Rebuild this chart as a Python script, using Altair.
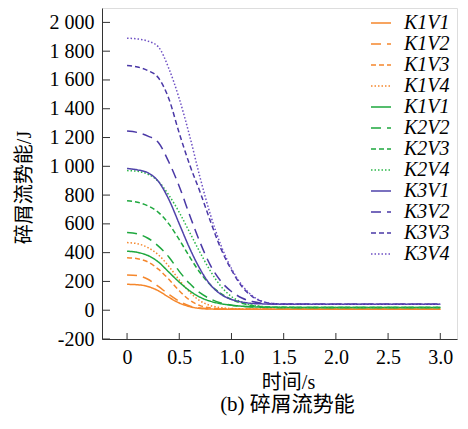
import altair as alt
import pandas as pd

# time grid (s)
T = [0, 0.1, 0.2, 0.3, 0.4, 0.5, 0.6, 0.7, 0.8, 0.9, 1.0, 1.1, 1.2, 1.3, 1.4, 1.5, 2.0, 2.5, 3.0]

SERIES = ["K1V1", "K1V2", "K1V3", "K1V4", "K2V1", "K2V2", "K2V3", "K2V4",
          "K3V1", "K3V2", "K3V3", "K3V4"]

K1V1 = [180, 177, 165, 135, 90, 50, 25, 12, 8, 7, 6, 6, 6, 6, 6, 6, 6, 6, 6]
K1V2 = [245, 240, 215, 165, 110, 62, 30, 15, 10, 8, 7, 7, 7, 7, 7, 7, 7, 7, 7]
K1V3 = [365, 358, 335, 285, 215, 135, 70, 32, 16, 10, 8, 7, 7, 7, 7, 7, 7, 7, 7]
K1V4 = [470, 462, 435, 385, 305, 210, 125, 65, 32, 18, 12, 9, 8, 8, 7, 7, 7, 7, 7]
K2V1 = [410, 402, 380, 335, 265, 195, 135, 90, 62, 45, 35, 28, 24, 21, 20, 19, 19, 19, 19]
K2V2 = [540, 530, 500, 445, 370, 270, 185, 120, 78, 50, 35, 27, 22, 20, 19, 19, 19, 19, 19]
K2V3 = [760, 750, 725, 680, 600, 490, 370, 260, 175, 115, 75, 48, 32, 24, 21, 20, 19, 19, 19]
K2V4 = [970, 965, 945, 895, 800, 680, 540, 400, 270, 165, 95, 55, 35, 25, 21, 20, 19, 19, 19]
K3V1 = [985, 975, 955, 895, 770, 600, 430, 285, 175, 110, 75, 57, 47, 44, 43, 42, 42, 42, 42]
K3V2 = [1245, 1235, 1210, 1165, 1030, 860, 660, 470, 310, 200, 130, 85, 60, 48, 44, 42, 42, 42, 42]
K3V3 = [1700, 1690, 1665, 1615, 1470, 1230, 1010, 820, 615, 425, 280, 165, 95, 60, 46, 43, 42, 42, 42]
K3V4 = [1890, 1885, 1870, 1830, 1680, 1470, 1210, 920, 660, 450, 290, 175, 100, 60, 46, 43, 42, 42, 42]

VALUES = [K1V1, K1V2, K1V3, K1V4, K2V1, K2V2, K2V3, K2V4, K3V1, K3V2, K3V3, K3V4]

X_TICKS = [0, 0.5, 1.0, 1.5, 2.0, 2.5, 3.0]
Y_TICKS = [-200, 0, 200, 400, 600, 800, 1000, 1200, 1400, 1600, 1800, 2000]

ORANGE = "#F5872C"
GREEN = "#1EA83E"
PURPLE = "#4A38A6"
COLORS = [ORANGE] * 4 + [GREEN] * 3 + ["#2DB84A"] + ["#4F43AA", PURPLE, PURPLE, "#6E50C4"]
DASHES = [[1, 0], [10, 6], [5, 3], [1.5, 2]] * 3

rows = []
for name, vals in zip(SERIES, VALUES):
    for t, v in zip(T, vals):
        rows.append({"series": name, "t": t, "v": v})
df = pd.DataFrame(rows)

W, H = 355, 331
SERIF = "Liberation Serif, Noto Sans CJK SC"
AX = "#333"

x_scale = alt.Scale(domain=[-0.24, 3.16], nice=False, zero=False)
y_scale = alt.Scale(domain=[-200, 2100], nice=False, zero=False)

x_axis = alt.Axis(values=X_TICKS, title="时间/s", grid=False, tickSize=0,
                  labelExpr="datum.value == 0 ? '0' : format(datum.value, '.1f')",
                  labelFont=SERIF, labelFontSize=20, labelPadding=8,
                  labelOverlap=False,
                  titleFont=SERIF, titleFontSize=20, titleFontWeight="normal",
                  titlePadding=5, titleX=186, labelColor="black", titleColor="black",
                  domainColor=AX, labelFlush=False)
y_axis = alt.Axis(values=Y_TICKS, title="碎屑流势能/J", grid=False, tickSize=0,
                  labelExpr="datum.value >= 1000 ? format(floor(datum.value/1000), 'd') + ' ' + format(datum.value % 1000, '03d') : '' + datum.value",
                  labelFont=SERIF, labelFontSize=20, labelPadding=8,
                  labelOverlap=False,
                  titleFont=SERIF, titleFontSize=20, titleFontWeight="normal",
                  titleY=179, titlePadding=15, labelColor="black", titleColor="black",
                  domainColor=AX, labelFlush=False)

legend_kw = dict(title=None, orient="none", legendX=268, legendY=4,
                 symbolType="stroke", symbolSize=400, symbolStrokeWidth=1.5,
                 labelFont="Liberation Serif", labelFontStyle="italic",
                 labelFontSize=20, labelColor="black", rowPadding=0,
                 labelOffset=12,
                 labelExpr="datum.label == 'K2V1' ? 'K1V1' : datum.label")

lines = alt.Chart(df).mark_line(strokeWidth=1.5, interpolate="monotone").encode(
    x=alt.X("t:Q", scale=x_scale, axis=x_axis),
    y=alt.Y("v:Q", scale=y_scale, axis=y_axis),
    color=alt.Color("series:N", scale=alt.Scale(domain=SERIES, range=COLORS),
                    legend=alt.Legend(**legend_kw)),
    strokeDash=alt.StrokeDash("series:N", scale=alt.Scale(domain=SERIES, range=DASHES),
                              legend=alt.Legend(**legend_kw)),
)

xtick_df = pd.DataFrame({"tick": X_TICKS})
xticks = alt.Chart(xtick_df).mark_rule(color=AX, strokeWidth=1).encode(
    x=alt.X("tick:Q", scale=x_scale, axis=x_axis),
    y=alt.value(H),
    y2=alt.value(H - 6),
)

ytick_df = pd.DataFrame({"tick": Y_TICKS})
yticks = alt.Chart(ytick_df).mark_rule(color=AX, strokeWidth=1).encode(
    y=alt.Y("tick:Q", scale=y_scale, axis=y_axis),
    x=alt.value(0),
    x2=alt.value(8),
)

chart = alt.layer(lines, xticks, yticks).properties(
    width=W, height=H,
    padding={"left": 94, "top": 0, "right": 3, "bottom": 82},
    autosize=alt.AutoSizeParams(type="none"),
    title=alt.TitleParams(text="(b) 碎屑流势能", orient="bottom", font=SERIF, fontSize=21,
                          fontWeight="normal", color="black", offset=2, dx=8),
).configure_view(stroke=None).configure(background="white")

chart.save("out.html", embed_options={"renderer": "svg", "actions": False})
